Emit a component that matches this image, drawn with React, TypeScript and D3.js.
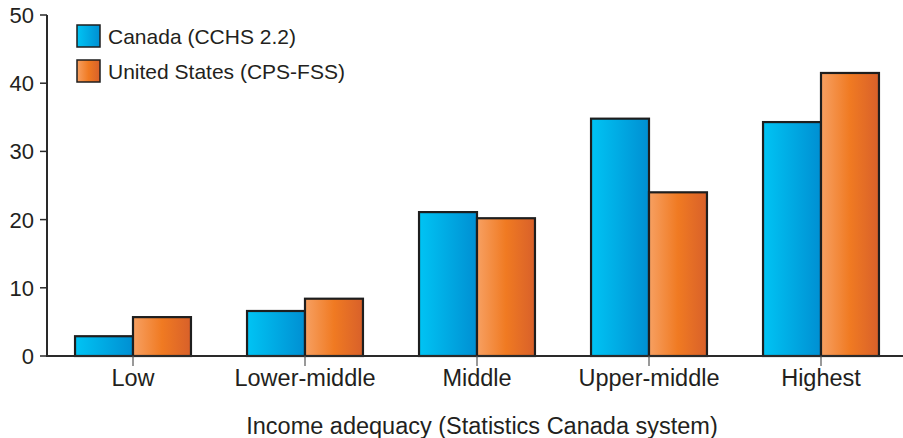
import { useEffect, useRef } from 'react';
import * as d3 from 'd3';

const categories = ['Low', 'Lower-middle', 'Middle', 'Upper-middle', 'Highest'];
const seriesNames = ['Canada (CCHS 2.2)', 'United States (CPS-FSS)'];
const canada = [2.9, 6.6, 21.1, 34.8, 34.3];
const unitedStates = [5.7, 8.4, 20.2, 24.0, 41.5];
const yTicks = [0, 10, 20, 30, 40, 50];
const xTitle = 'Income adequacy (Statistics Canada system)';

const W = 903;
const H = 438;
const FONT = 'Helvetica, Arial, "Liberation Sans", sans-serif';

export default function App() {
  const svgRef = useRef<SVGSVGElement>(null);

  useEffect(() => {
    if (!svgRef.current) return;
    const svg = d3.select(svgRef.current);
    svg.selectAll('*').remove();

    const left = 47;
    const x = d3.scaleBand<string>().domain(categories).range([left, left + 5 * 172]).paddingInner(0.326).paddingOuter(0.163);
    const y = d3.scaleLinear().domain([0, 50]).range([356, 15]);
    const sub = d3.scaleBand<number>().domain([0, 1]).range([0, x.bandwidth()]);

    const defs = svg.append('defs');
    const blue = defs.append('linearGradient').attr('id', 'gBlue').attr('x1', '0').attr('x2', '1').attr('y1', '0').attr('y2', '0');
    blue.append('stop').attr('offset', '0%').attr('stop-color', '#00c4f4');
    blue.append('stop').attr('offset', '100%').attr('stop-color', '#008fd2');
    const orange = defs.append('linearGradient').attr('id', 'gOrange').attr('x1', '0').attr('x2', '1').attr('y1', '0').attr('y2', '0');
    orange.append('stop').attr('offset', '0%').attr('stop-color', '#f7a062');
    orange.append('stop').attr('offset', '50%').attr('stop-color', '#f07a22');
    orange.append('stop').attr('offset', '100%').attr('stop-color', '#d8602a');
    const fills = ['url(#gBlue)', 'url(#gOrange)'];
    const series = [canada, unitedStates];

    // bars
    series.forEach((vals, si) => {
      svg.append('g').selectAll('rect')
        .data(vals)
        .enter()
        .append('rect')
        .attr('x', (_, i) => x(categories[i])! + sub(si)!)
        .attr('y', d => y(d))
        .attr('width', sub.bandwidth())
        .attr('height', d => y(0) - y(d))
        .attr('fill', fills[si])
        .attr('stroke', '#1e1e1e')
        .attr('stroke-width', 2.2);
    });

    // x axis
    svg.append('line')
      .attr('x1', left).attr('x2', W)
      .attr('y1', y(0)).attr('y2', y(0))
      .attr('stroke', '#2a2a2a').attr('stroke-width', 2);
    const xg = svg.append('g');
    categories.forEach(c => {
      const cx = x(c)! + x.bandwidth() / 2;
      xg.append('line').attr('x1', cx).attr('x2', cx).attr('y1', y(0)).attr('y2', y(0) + 10)
        .attr('stroke', '#555').attr('stroke-width', 1.2);
      xg.append('text').attr('x', cx).attr('y', 386).attr('text-anchor', 'middle')
        .attr('font-size', 23.5).attr('font-family', FONT).attr('fill', '#231f20').text(c);
    });

    // y axis
    svg.append('line')
      .attr('x1', left).attr('x2', left)
      .attr('y1', y(50)).attr('y2', y(0) + 1)
      .attr('stroke', '#2a2a2a').attr('stroke-width', 2);
    const yg = svg.append('g');
    yTicks.forEach(t => {
      yg.append('line').attr('x1', left - 7).attr('x2', left).attr('y1', y(t)).attr('y2', y(t))
        .attr('stroke', '#2a2a2a').attr('stroke-width', 1.5);
      yg.append('text').attr('x', 34).attr('y', y(t)).attr('dy', '0.36em').attr('text-anchor', 'end')
        .attr('font-size', 22).attr('font-family', FONT).attr('fill', '#231f20').text(t);
    });

    // x title
    svg.append('text').attr('x', 482).attr('y', 434).attr('text-anchor', 'middle')
      .attr('font-size', 23.5).attr('font-family', FONT).attr('fill', '#231f20').text(xTitle);

    // legend
    const lg = svg.append('g');
    seriesNames.forEach((n, i) => {
      const ly = 25 + i * 35;
      lg.append('rect').attr('x', 77).attr('y', ly).attr('width', 23).attr('height', 22)
        .attr('fill', fills[i]).attr('stroke', '#1e1e1e').attr('stroke-width', 1.5);
      lg.append('text').attr('x', 108).attr('y', ly + 11).attr('dy', '0.36em')
        .attr('font-size', 21).attr('font-family', FONT).attr('fill', '#231f20').text(n);
    });
  }, []);

  return (
    <svg
      ref={svgRef}
      width={W}
      height={H}
      style={{ position: 'absolute', left: 0, top: 0, background: '#fff' }}
    />
  );
}
